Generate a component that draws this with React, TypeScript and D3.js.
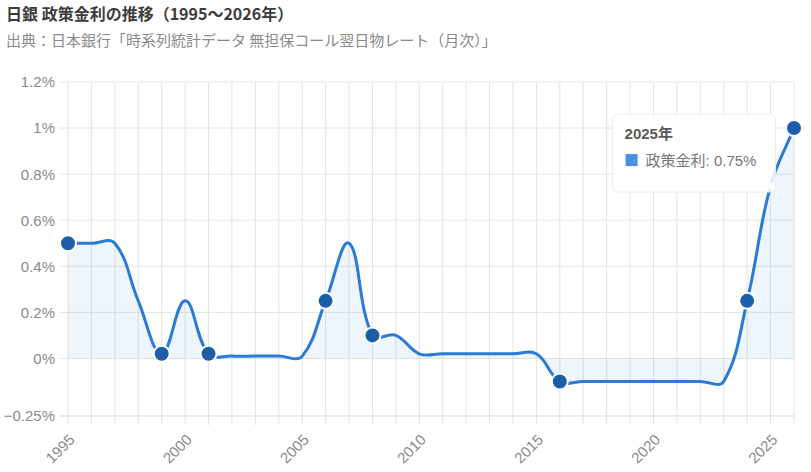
import { useEffect, useRef } from 'react';
import * as d3 from 'd3';

const years = [
  1995, 1996, 1997, 1998, 1999, 2000, 2001, 2002, 2003, 2004, 2005,
  2006, 2007, 2008, 2009, 2010, 2011, 2012, 2013, 2014, 2015,
  2016, 2017, 2018, 2019, 2020, 2021, 2022, 2023, 2024, 2025, 2026,
];
const rates = [
  0.5, 0.5, 0.5, 0.25, 0.02, 0.25, 0.02, 0.01, 0.01, 0.01, 0.01,
  0.25, 0.5, 0.1, 0.1, 0.02, 0.02, 0.02, 0.02, 0.02, 0.02,
  -0.1, -0.1, -0.1, -0.1, -0.1, -0.1, -0.1, -0.1, 0.25, 0.75, 1.0,
];
// years that get a visible marker (policy changes)
const markerYears = [1995, 1999, 2001, 2006, 2008, 2016, 2024, 2026];
const yTicks = [-0.25, 0, 0.2, 0.4, 0.6, 0.8, 1.0, 1.2];
const xLabelYears = [1995, 2000, 2005, 2010, 2015, 2020, 2025];
const tooltipYear = 2025;
const seriesName = '政策金利';

const TITLE = '日銀 政策金利の推移（1995〜2026年）';
const SUBTITLE = '出典：日本銀行「時系列統計データ 無担保コール翌日物レート（月次）」';

const LINE = '#2a7bd6';
const DOT = '#1c5ea8';
const GRID = '#e6e4da';
const TEXT = '#8a8a8a';
const FONT = '"Liberation Sans", Arial, sans-serif';
const JP = '"Noto Sans CJK JP", "Noto Sans", sans-serif';

// Chart.js-like spline: control points weighted by neighbour distance
const TENSION = 0.4;
function splineCurve(context: any) {
  let pts: [number, number][] = [];
  let line = NaN;
  return {
    areaStart() { line = 0; },
    areaEnd() { line = NaN; },
    lineStart() { pts = []; },
    point(x: number, y: number) { pts.push([+x, +y]); },
    lineEnd() {
      const n = pts.length;
      if (n) {
        if (line) context.lineTo(pts[0][0], pts[0][1]);
        else context.moveTo(pts[0][0], pts[0][1]);
        const cps = pts.map((p, i) => {
          const prev = pts[Math.max(0, i - 1)];
          const next = pts[Math.min(n - 1, i + 1)];
          const d01 = Math.hypot(p[0] - prev[0], p[1] - prev[1]);
          const d12 = Math.hypot(next[0] - p[0], next[1] - p[1]);
          const s = d01 + d12 || 1;
          const fa = (TENSION * d01) / s;
          const fb = (TENSION * d12) / s;
          const dx = next[0] - prev[0];
          const dy = next[1] - prev[1];
          return { cin: [p[0] - fa * dx, p[1] - fa * dy], cout: [p[0] + fb * dx, p[1] + fb * dy] };
        });
        for (let i = 1; i < n; i++) {
          context.bezierCurveTo(cps[i - 1].cout[0], cps[i - 1].cout[1], cps[i].cin[0], cps[i].cin[1], pts[i][0], pts[i][1]);
        }
      }
      if (line || (line !== 0 && n === 1)) context.closePath();
      line = 1 - line;
    },
  };
}

export default function App() {
  const svgRef = useRef<SVGSVGElement>(null);

  useEffect(() => {
    if (!svgRef.current) return;
    const width = 811;
    const height = 472;
    const margin = { top: 82, right: 17, bottom: 56, left: 68 };

    const data = years.map((y, i) => ({ year: y, rate: rates[i] }));

    const svg = d3.select(svgRef.current);
    svg.selectAll('*').remove();
    svg.attr('width', width).attr('height', height);

    const x = d3.scaleLinear().domain([1995, 2026]).range([margin.left, width - margin.right]);
    const y = d3.scaleLinear().domain([-0.25, 1.2]).range([height - margin.bottom, margin.top]);

    const tickLen = 9;

    // Gridlines (extend past the plot like chart ticks)
    svg.append('g')
      .selectAll('line')
      .data(years)
      .join('line')
      .attr('x1', d => x(d)).attr('x2', d => x(d))
      .attr('y1', y(1.2)).attr('y2', y(-0.25) + tickLen)
      .attr('stroke', GRID).attr('stroke-width', 1);

    svg.append('g')
      .selectAll('line')
      .data(yTicks)
      .join('line')
      .attr('x1', x(1995) - tickLen).attr('x2', x(2026))
      .attr('y1', d => y(d)).attr('y2', d => y(d))
      .attr('stroke', (d, i) => (i === 0 ? '#d9d7cd' : GRID)).attr('stroke-width', 1);

    // Area to zero
    const area = d3.area<{ year: number; rate: number }>()
      .x(d => x(d.year))
      .y0(y(0))
      .y1(d => y(d.rate))
      .curve(splineCurve as any);
    svg.append('path').datum(data).attr('d', area).attr('fill', '#2a7bd6').attr('fill-opacity', 0.08);

    const line = d3.line<{ year: number; rate: number }>()
      .x(d => x(d.year))
      .y(d => y(d.rate))
      .curve(splineCurve as any);
    svg.append('path').datum(data).attr('d', line)
      .attr('fill', 'none').attr('stroke', LINE).attr('stroke-width', 3)
      .attr('stroke-linejoin', 'round');

    // Markers
    svg.append('g')
      .selectAll('circle')
      .data(data.filter(d => markerYears.includes(d.year)))
      .join('circle')
      .attr('cx', d => x(d.year)).attr('cy', d => y(d.rate))
      .attr('r', 8)
      .attr('fill', DOT).attr('stroke', '#fff').attr('stroke-width', 2);

    // hovered point
    const tip = data.find(d => d.year === tooltipYear)!;
    svg.append('circle')
      .attr('cx', x(tip.year)).attr('cy', y(tip.rate)).attr('r', 3)
      .attr('fill', '#fff');

    // Y labels
    svg.append('g')
      .selectAll('text')
      .data(yTicks)
      .join('text')
      .attr('x', x(1995) - 13)
      .attr('y', d => y(d))
      .attr('dy', '0.36em')
      .attr('text-anchor', 'end')
      .attr('font-family', FONT).attr('font-size', 15).attr('fill', TEXT)
      .text(d => `${d3.format('~g')(d)}%`);

    // X labels, rotated
    svg.append('g')
      .selectAll('text')
      .data(xLabelYears)
      .join('text')
      .attr('transform', d => `translate(${x(d) + 4},${y(-0.25) + 21}) rotate(-45)`)
      .attr('dy', '0.35em')
      .attr('text-anchor', 'end')
      .attr('font-family', FONT).attr('font-size', 15).attr('fill', TEXT)
      .text(d => d);

    // Tooltip
    const tx = x(tooltipYear) - 158;
    const ty = y(1.0) - 14;
    const tg = svg.append('g').attr('transform', `translate(${tx},${ty})`);
    tg.append('rect')
      .attr('width', 163).attr('height', 78).attr('rx', 6)
      .attr('fill', '#fff').attr('fill-opacity', 0.86)
      .attr('stroke', '#ececec').attr('stroke-width', 1);
    tg.append('text')
      .attr('x', 12).attr('y', 25)
      .attr('font-family', `${FONT}, ${JP}`).attr('font-size', 15).attr('font-weight', 700)
      .attr('fill', '#5a5a5a')
      .text(`${tooltipYear}年`);
    tg.append('rect')
      .attr('x', 13).attr('y', 40).attr('width', 12).attr('height', 12)
      .attr('fill', '#4a8fe0');
    tg.append('text')
      .attr('x', 33).attr('y', 52)
      .attr('font-family', `${FONT}, ${JP}`).attr('font-size', 15)
      .attr('fill', '#777')
      .text(`${seriesName}: ${tip.rate.toFixed(2)}%`);

    // Titles
    svg.append('text')
      .attr('x', 6).attr('y', 20)
      .attr('font-family', JP).attr('font-size', 16).attr('font-weight', 700)
      .attr('fill', '#3c3c3c')
      .text(TITLE);
    svg.append('text')
      .attr('x', 6).attr('y', 46)
      .attr('font-family', JP).attr('font-size', 15)
      .attr('fill', TEXT)
      .text(SUBTITLE);
  }, []);

  return (
    <div style={{ position: 'absolute', left: 0, top: 0 }}>
      <svg ref={svgRef} style={{ display: 'block' }} />
    </div>
  );
}
